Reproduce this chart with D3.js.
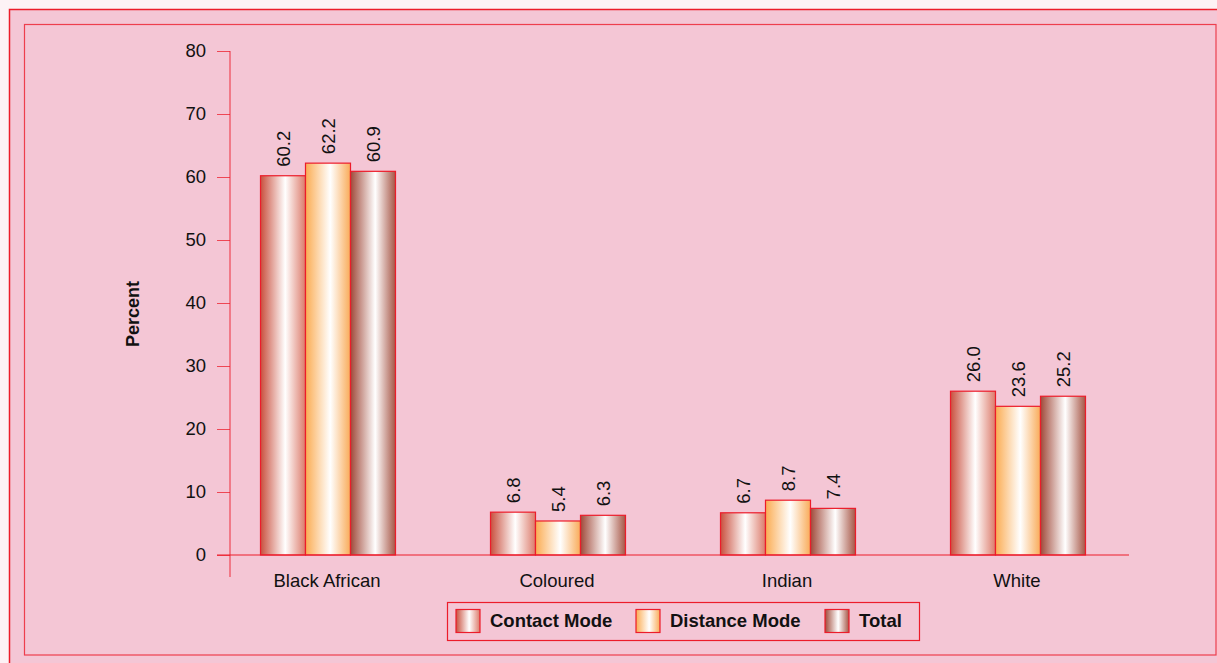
<!DOCTYPE html>
<html>
<head>
<meta charset="utf-8">
<script src="https://cdn.jsdelivr.net/npm/d3@7"></script>
<style>
  body { margin: 0; background: #fdf2f5; }
  svg { display: block; font-family: "Liberation Sans", Arial, sans-serif; }
</style>
</head>
<body>
<svg id="chart" width="1217" height="663"></svg>
<script>
// data
const categories = ["Black African", "Coloured", "Indian", "White"];
const seriesNames = ["Contact Mode", "Distance Mode", "Total"];
const contactMode = [60.2, 6.8, 6.7, 26.0];
const distanceMode = [62.2, 5.4, 8.7, 23.6];
const total = [60.9, 6.3, 7.4, 25.2];
const yTicks = [0, 10, 20, 30, 40, 50, 60, 70, 80];

const series = [contactMode, distanceMode, total];

// gradient stops for each series: [edge left, centre, edge right]
const grads = [
  ["#c9503e", "#ffffff", "#dc7a6a"],
  ["#fbac52", "#ffffff", "#f9ab58"],
  ["#a04a3a", "#ffffff", "#a65545"]
];

const svg = d3.select("#chart");
const red = "#ec1c2a";
const fs = 18.5;

// frame
svg.append("rect").attr("x", 9.5).attr("y", 9.5).attr("width", 1220).attr("height", 670)
  .attr("fill", "#f4c6d5").attr("stroke", red).attr("stroke-width", 1.5);
svg.append("rect").attr("x", 24.5).attr("y", 24.5).attr("width", 1191.5).attr("height", 630.5)
  .attr("fill", "#f4c6d5").attr("stroke", red).attr("stroke-opacity", 0.8).attr("stroke-width", 1.2);

const defs = svg.append("defs");
grads.forEach(function(g, i) {
  const lg = defs.append("linearGradient").attr("id", "g" + i)
    .attr("x1", "0%").attr("x2", "100%").attr("y1", "0%").attr("y2", "0%");
  lg.append("stop").attr("offset", "0%").attr("stop-color", g[0]);
  lg.append("stop").attr("offset", "55%").attr("stop-color", g[1]);
  lg.append("stop").attr("offset", "100%").attr("stop-color", g[2]);
});

const y = d3.scaleLinear().domain([0, 80]).range([555, 51]);
const x0 = d3.scaleBand().domain(categories).range([213, 1133]);
const x1 = d3.scaleBand().domain(d3.range(3)).range([0, 135]);
const off = (x0.bandwidth() - 135) / 2;

// y axis
const yAxis = svg.append("g").attr("transform", "translate(230,0)")
  .call(d3.axisLeft(y).tickValues(yTicks).tickSize(13).tickPadding(11));
yAxis.select(".domain").remove();
yAxis.selectAll(".tick line").attr("stroke", red).attr("stroke-opacity", 0.75);
yAxis.selectAll(".tick text").attr("font-size", fs).attr("fill", "#111")
  .attr("font-family", "'Liberation Sans', Arial, sans-serif");
svg.append("line").attr("x1", 230).attr("x2", 230).attr("y1", 51).attr("y2", 577)
  .attr("stroke", red).attr("stroke-opacity", 0.75).attr("stroke-width", 1.2);

// bars
const groups = svg.selectAll("g.grp").data(categories).enter().append("g")
  .attr("class", "grp")
  .attr("transform", (d) => "translate(" + (x0(d) + off) + ",0)");

groups.each(function(cat, ci) {
  const g = d3.select(this);
  series.forEach(function(s, si) {
    const v = s[ci];
    g.append("rect")
      .attr("x", x1(si)).attr("y", y(v))
      .attr("width", x1.bandwidth()).attr("height", y(0) - y(v))
      .attr("fill", "url(#g" + si + ")")
      .attr("stroke", red).attr("stroke-width", 1.2);
    const tx = x1(si) + x1.bandwidth() / 2 + 7;
    const ty = y(v) - 9;
    g.append("text")
      .attr("transform", "translate(" + tx + "," + ty + ") rotate(-90)")
      .attr("font-size", fs).attr("fill", "#111")
      .text(v.toFixed(1));
  });
});

// x axis
svg.append("line").attr("x1", 217).attr("x2", 1129).attr("y1", 555).attr("y2", 555)
  .attr("stroke", red).attr("stroke-width", 1.2);
svg.selectAll("text.cat").data(categories).enter().append("text")
  .attr("class", "cat")
  .attr("x", (d) => x0(d) + x0.bandwidth() / 2 - 1)
  .attr("y", 587)
  .attr("text-anchor", "middle").attr("font-size", fs).attr("fill", "#111")
  .text((d) => d);

// y title
svg.append("text")
  .attr("transform", "translate(139,314) rotate(-90)")
  .attr("text-anchor", "middle").attr("font-size", 18).attr("font-weight", "bold")
  .attr("fill", "#111").text("Percent");

// legend
const legend = svg.append("g");
legend.append("rect").attr("x", 447.5).attr("y", 602.5).attr("width", 472).attr("height", 38)
  .attr("fill", "none").attr("stroke", red).attr("stroke-width", 1.2);
const legX = [456, 636, 825];
seriesNames.forEach(function(n, i) {
  legend.append("rect").attr("x", legX[i]).attr("y", 609.5).attr("width", 24).attr("height", 23)
    .attr("fill", "url(#g" + i + ")").attr("stroke", red).attr("stroke-width", 1.2);
  legend.append("text").attr("x", legX[i] + 34).attr("y", 627)
    .attr("font-size", fs).attr("font-weight", "bold").attr("fill", "#111").text(n);
});
</script>
</body>
</html>
